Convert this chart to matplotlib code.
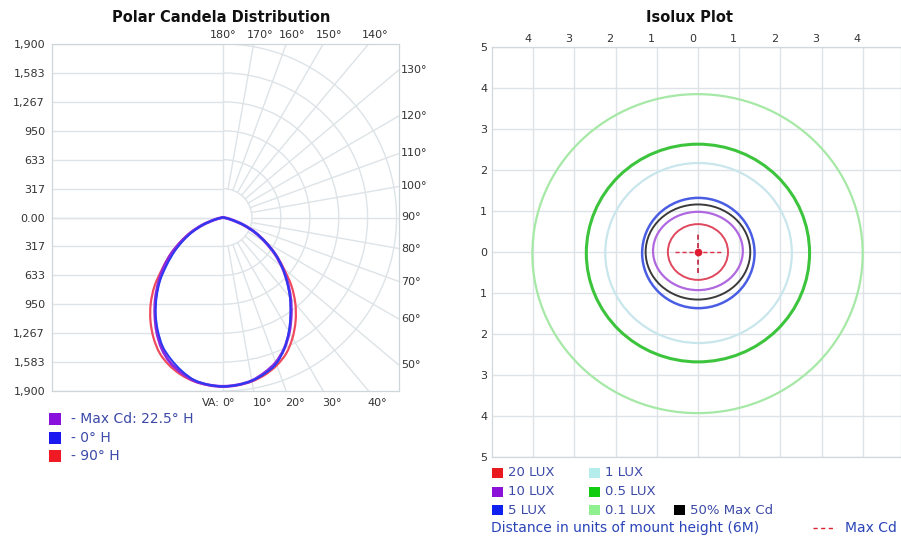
import numpy as np
import matplotlib
matplotlib.use("Agg")
import matplotlib.pyplot as plt
from matplotlib.patches import Arc, Ellipse, Rectangle, PathPatch
from matplotlib.path import Path
from matplotlib.lines import Line2D
from matplotlib.transforms import ScaledTranslation

plt.rcParams['font.family'] = ['DejaVu Sans']

# ---------------- data: polar candela ----------------
va_angles = [0, 5, 10, 15, 20, 25, 30, 35, 40, 45, 50, 55, 60, 65, 70, 75, 80, 85, 90]
cd_0h_right = [1850, 1840, 1815, 1770, 1705, 1585, 1442, 1287, 1140, 989, 845, 699, 536, 388, 240, 100, 20, 0, 0]
cd_0h_left = [1850, 1838, 1808, 1740, 1656, 1560, 1428, 1286, 1130, 973, 800, 647, 500, 365, 230, 100, 20, 0, 0]
cd_maxcd = [1850, 1840, 1815, 1760, 1690, 1585, 1450, 1300, 1150, 995, 845, 690, 530, 385, 240, 105, 25, 0, 0]
cd_90h = [1850, 1842, 1822, 1782, 1722, 1640, 1522, 1385, 1232, 1060, 865, 705, 540, 390, 240, 105, 25, 0, 0]

candela_ticks = [0, 317, 633, 950, 1267, 1583, 1900]
candela_tick_labels = ["0.00", "317", "633", "950", "1,267", "1,583", "1,900"]
grid_angles = list(range(0, 181, 10))
top_angle_labels = [180, 170, 160, 150, 140]
right_angle_labels = [130, 120, 110, 100, 90, 80, 70, 60, 50]
bottom_angle_labels = [0, 10, 20, 30, 40]
polar_legend = ["- Max Cd: 22.5\u00b0 H", "- 0\u00b0 H", "- 90\u00b0 H"]
polar_legend_colors = ["#8a10dc", "#1a1af0", "#f01a24"]

# ---------------- data: isolux ----------------
isolux_names = ["0.1 LUX", "1 LUX", "0.5 LUX", "5 LUX", "50% Max Cd", "10 LUX", "20 LUX"]
isolux_cx = [-0.01, 0.015, 0.0, 0.01, 0.0, 0.0, 0.0]
isolux_cy = [-0.04, -0.025, -0.025, -0.025, 0.0, 0.025, 0.0]
isolux_rx = [4.01, 2.265, 2.71, 1.365, 1.27, 1.09, 0.73]
isolux_ry = [3.89, 2.195, 2.655, 1.345, 1.16, 0.955, 0.68]
isolux_line_colors = ["#a6e8a6", "#c9e6ec", "#3cc43c", "#4a5ee4", "#3a3a3a", "#b068e0", "#e0485e"]
isolux_lw = [1.6, 1.6, 2.2, 1.8, 1.4, 1.6, 1.4]
max_cd_pos = (0.0, 0.0)
iso_ticks = [-4, -3, -2, -1, 0, 1, 2, 3, 4]
iso_yticks = [-5, -4, -3, -2, -1, 0, 1, 2, 3, 4, 5]

legend_rows = [["20 LUX", "1 LUX"], ["10 LUX", "0.5 LUX"], ["5 LUX", "0.1 LUX", "50% Max Cd"]]
legend_colors = [["#e8191f", "#b5ecec"], ["#8b10d8", "#11cc11"], ["#1020f0", "#90f090", "#000000"]]

W, H = 901, 537
fig = plt.figure(figsize=(W / 100, H / 100), dpi=100)


def fx(px):
    return px / W


def fy(py):
    return 1 - py / H


GRID = "#dde3e7"
TXT = "#333333"
LEG_TXT = "#3c4aa8"

# ================= LEFT: polar candela =================
ax1 = fig.add_axes([fx(52), fy(391), 347 / W, 347 / H])
xl = (-1873, 1927)
ax1.set_xlim(*xl)
ax1.set_ylim(-1900, 1900)
for s in ax1.spines.values():
    s.set_color("#cfd6da")
    s.set_linewidth(0.9)
ytick_pos = [v for v in candela_ticks[::-1]] + [-v for v in candela_ticks[1:]]
ytick_lab = candela_tick_labels[::-1] + candela_tick_labels[1:]
ax1.set_yticks(ytick_pos, ytick_lab)
ax1.set_xticks([])
ax1.tick_params(axis="y", length=0, pad=5, labelsize=8, labelcolor=TXT)

# horizontal grid lines on left half
for v in candela_ticks:
    for sgn in (1, -1):
        ax1.plot([xl[0], 0], [sgn * v, sgn * v], color=GRID, lw=1, zorder=1)
# arcs on right half
for r in candela_ticks[1:]:
    ax1.add_patch(Arc((0, 0), 2 * r, 2 * r, theta1=-90, theta2=90, color=GRID, lw=1, zorder=1))
# radial lines
ax1.axvline(0, color=GRID, lw=1, zorder=1)
r0 = candela_ticks[1]
for a in grid_angles:
    if a in (0, 180):
        continue
    t = np.deg2rad(a)
    ax1.plot([r0 * np.sin(t), 4000 * np.sin(t)], [-r0 * np.cos(t), -4000 * np.cos(t)],
             color=GRID, lw=1, zorder=1)

# angle labels
lab_kw = dict(fontsize=8, color=TXT, textcoords="offset pixels", annotation_clip=False)
for a in top_angle_labels:
    t = np.deg2rad(180 - a)
    x = 1900 * np.tan(t)
    if a == 180:
        ax1.annotate(f"{a}\u00b0", (x, 1900), xytext=(0, 9), ha="center", va="center", **lab_kw)
    else:
        ax1.annotate(f"{a}\u00b0", (x, 1900), xytext=(-7, 9), ha="left", va="center", **lab_kw)
for a in right_angle_labels:
    t = np.deg2rad(a)
    y = -xl[1] * np.cos(t) / np.sin(t)
    ax1.annotate(f"{a}\u00b0", (xl[1], y), xytext=(2, 0), ha="left", va="center", **lab_kw)
for a in bottom_angle_labels:
    t = np.deg2rad(a)
    x = 1900 * np.tan(t)
    ax1.annotate(f"{a}\u00b0", (x, -1900), xytext=(-1, -12), ha="left", va="center", **lab_kw)
    if a == 0:
        ax1.annotate("VA:", (x, -1900), xytext=(-3, -12), ha="right", va="center", **lab_kw)


# candela curves: closed loop through the read points, rendered as a smooth Bezier path
def curve_path(right, left):
    th = np.deg2rad(va_angles)
    r_r = np.asarray(right, float)
    r_l = np.asarray(left, float)
    xs = np.concatenate([r_r * np.sin(th), (-r_l * np.sin(th))[::-1][1:-1]])
    ys = np.concatenate([-r_r * np.cos(th), (-r_l * np.cos(th))[::-1][1:-1]])
    pts = [(xs[0], ys[0])]
    for px, py in zip(xs[1:], ys[1:]):
        if abs(px - pts[-1][0]) > 1e-6 or abs(py - pts[-1][1]) > 1e-6:
            pts.append((px, py))
    P = np.array(pts)
    n = len(P)
    verts = [P[0]]
    codes = [Path.MOVETO]
    for i in range(n):
        p0, p1, p2, p3 = P[(i - 1) % n], P[i], P[(i + 1) % n], P[(i + 2) % n]
        c1 = p1 + (p2 - p0) / 6.0
        c2 = p2 - (p3 - p1) / 6.0
        verts += [c1, c2, p2]
        codes += [Path.CURVE4] * 3
    return Path(np.array(verts), codes)


ax1.add_patch(PathPatch(curve_path(cd_90h, cd_90h), fill=False, edgecolor="#f04a5e", lw=1.6, zorder=3))
ax1.add_patch(PathPatch(curve_path(cd_maxcd, cd_maxcd), fill=False, edgecolor="#8a2ae0", lw=2.2, zorder=4))
ax1.add_patch(PathPatch(curve_path(cd_0h_right, cd_0h_left), fill=False, edgecolor="#2a3af0", lw=1.4, zorder=5))

fig.text(fx(221), fy(17), "Polar Candela Distribution", ha="center", va="center",
         fontsize=10.5, fontweight="bold", color="#111111")

# left legend
for i, (lab, col) in enumerate(zip(polar_legend, polar_legend_colors)):
    yc = 419 + i * 18.5
    fig.patches.append(Rectangle((fx(49), fy(yc + 6)), 12 / W, 12 / H, transform=fig.transFigure,
                                 facecolor=col, edgecolor="none"))
    fig.text(fx(71), fy(yc), lab, ha="left", va="center", fontsize=10, color=LEG_TXT)

# ================= RIGHT: isolux =================
ax2 = fig.add_axes([fx(492), fy(457), 409 / W, 410 / H])
ax2.set_xlim(-5, 4.93)
ax2.set_ylim(-5, 5)
for s in ax2.spines.values():
    s.set_color("#d0d8dd")
    s.set_linewidth(0.9)
ax2.xaxis.tick_top()
ax2.set_xticks(iso_ticks, [str(abs(v)) for v in iso_ticks])
ax2.set_yticks(iso_yticks, [str(abs(v)) for v in iso_yticks])
ax2.tick_params(length=0, labelsize=8, labelcolor=TXT)
ax2.tick_params(axis="x", pad=2)
ax2.tick_params(axis="y", pad=3.5)
ax2.grid(True, color=GRID, lw=1)
ax2.set_axisbelow(True)
off = ScaledTranslation(-2 / 100, 0, fig.dpi_scale_trans)
for lab in ax2.get_xticklabels():
    lab.set_horizontalalignment("right")
    lab.set_transform(lab.get_transform() + off)

for n, cx, cy, rx, ry, c, lw in zip(isolux_names, isolux_cx, isolux_cy, isolux_rx, isolux_ry,
                                    isolux_line_colors, isolux_lw):
    ax2.add_patch(Ellipse((cx, cy), 2 * rx, 2 * ry, fill=False, edgecolor=c, lw=lw, zorder=3))

mx, my = max_cd_pos
ax2.plot([mx - 0.55, mx + 0.55], [my, my], ls=(0, (3, 2)), color="#e0304a", lw=1, zorder=4)
ax2.plot([mx, mx], [my - 0.5, my + 0.5], ls=(0, (3, 2)), color="#c0203a", lw=1.2, zorder=4)
ax2.plot([mx], [my], "o", color="#e01a30", ms=4.5, zorder=5)

fig.text(fx(690), fy(17), "Isolux Plot", ha="center", va="center",
         fontsize=10.5, fontweight="bold", color="#111111")

# right legend
col_x = [492, 589, 674]
for r, (names, cols) in enumerate(zip(legend_rows, legend_colors)):
    yc = 473 + r * 18.5
    for c, (n, colr) in enumerate(zip(names, cols)):
        x0 = col_x[c]
        fig.patches.append(Rectangle((fx(x0), fy(yc + 5)), 11 / W, 10 / H, transform=fig.transFigure,
                                     facecolor=colr, edgecolor="none"))
        fig.text(fx(x0 + 16), fy(yc), n, ha="left", va="center", fontsize=9.5, color=LEG_TXT)
fig.text(fx(491), fy(528), "Distance in units of mount height (6M)", ha="left", va="center",
         fontsize=10, color="#2a44b8")
fig.lines.append(Line2D([fx(813), fx(836)], [fy(528), fy(528)], transform=fig.transFigure,
                        color="#e02030", lw=1, ls=(0, (3, 2.5))))
fig.text(fx(845), fy(528), "Max Cd", ha="left", va="center", fontsize=10, color="#2a44b8")

fig.savefig("out.png", dpi=100, facecolor="white")
